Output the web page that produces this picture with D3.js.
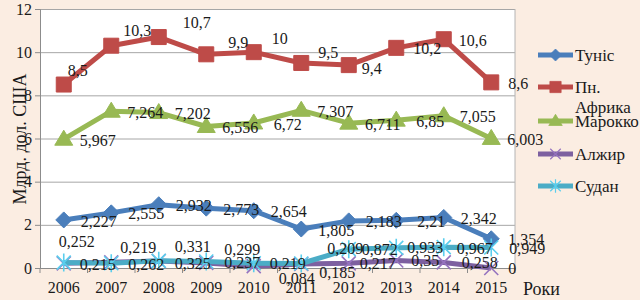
<!DOCTYPE html>
<html lang="uk">
<head>
<meta charset="utf-8">
<title>Експорт, млрд. дол. США</title>
<style>
html,body {margin:0; padding:0; background:#fbede2;}
svg {display:block;}
</style>
</head>
<body>
<script src="https://cdn.jsdelivr.net/npm/d3@7"></script>
<script>
// data
var years = ['2006','2007','2008','2009','2010','2011','2012','2013','2014','2015']
var tunis = [2.227, 2.555, 2.932, 2.773, 2.654, 1.805, 2.183, 2.21, 2.342, 1.354]
var nAfrica = [8.5, 10.3, 10.7, 9.9, 10, 9.5, 9.4, 10.2, 10.6, 8.6]
var morocco = [5.967, 7.264, 7.202, 6.556, 6.72, 7.307, 6.711, 6.85, 7.055, 6.003]
var algeria = [0.215, 0.262, 0.325, 0.237, 0.084, 0.185, 0.217, 0.35, 0.258, 0]
var sudan = [0.252, 0.219, 0.331, 0.299, 0.219, 0.209, 0.872, 0.933, 0.967, 0.949]
var yTicks = [0, 2, 4, 6, 8, 10, 12]

var W = 640, H = 300
var m = {left:40, top:9, right:125, bottom:32}
var pw = W - m.left - m.right, ph = H - m.top - m.bottom
var FONT = "'Liberation Serif'"
var INK = '#1a1a1a'

// label nudges (px) relative to each point, as placed in the original
var off = {
  tunis:   years.map(function(){return [35, 1]}),
  nAfrica: [[14,-14],[26,-15],[38,-15],[32,-12],[26,-14],[27,-11],[23,3],[31,1],[29,1],[27,1]],
  morocco: years.map(function(){return [34, 1]}),
  algeria: [[34,1],[35,2],[34,2],[36,0],[43,12],[36,8],[29,0],[29,0],[36,0],[21,0]],
  sudan:   [[13,-21],[27,-16],[34,-14],[36,-12],[34,0],[44,-15],[31,0],[29,0],[31,1],[36,1]]
}

var series = [
  {key:'tunis',   name:'Туніс',      values:tunis,   color:'#4a7ebb', marker:'diamond'},
  {key:'nAfrica', name:'Пн. Африка', values:nAfrica, color:'#be4b48', marker:'square'},
  {key:'morocco', name:'Марокко',    values:morocco, color:'#98b954', marker:'triangle'},
  {key:'algeria', name:'Алжир',      values:algeria, color:'#7d60a0', marker:'x'},
  {key:'sudan',   name:'Судан',      values:sudan,   color:'#4bacc6', marker:'star'}
]

function fmt(v) { return String(v).replace('.', ',') }

function markerPath(type) {
  if (type == 'diamond') return 'M0,-8L8,0L0,8L-8,0Z'
  if (type == 'square') return 'M-7.5,-7.5H7.5V7.5H-7.5Z'
  if (type == 'triangle') return 'M0,-9L9,6H-9Z'
  if (type == 'x') return 'M-7,-7L7,7M-7,7L7,-7'
  return 'M-7,-7L7,7M-7,7L7,-7M0,-9V9'
}
function drawMarker(g, s) {
  var p = g.append('path').attr('d', markerPath(s.marker))
  if (s.marker == 'x' || s.marker == 'star') {
    p.attr('fill', 'none').attr('stroke', d3.color(s.color).brighter(0.5)).attr('stroke-width', 1.6)
  } else {
    p.attr('fill', s.color).attr('stroke', s.color).attr('stroke-width', 1)
  }
}
function serif(sel, size) {
  sel.style('font-family', FONT).style('font-size', size + 'px').style('fill', INK)
}

var svg = d3.select('body').append('svg').attr('width', W).attr('height', H)
  .style('font-family', FONT)

var x = d3.scaleBand().domain(years).range([m.left, m.left + pw])
var y = d3.scaleLinear().domain([0, 12]).range([m.top + ph, m.top])
var cx = function(i) { return x(years[i]) + x.bandwidth() / 2 }

// plot area
svg.append('rect').attr('x', m.left).attr('y', m.top).attr('width', pw).attr('height', ph).attr('fill', '#fff')

// grid
svg.append('g')
  .attr('transform', 'translate(' + m.left + ',0)')
  .call(d3.axisLeft(y).tickValues(yTicks).tickSize(-pw).tickFormat(''))
  .call(function(g) { g.select('.domain').remove(); g.selectAll('line').attr('stroke', '#a6a6a6') })

// right border
svg.append('line').attr('x1', m.left + pw).attr('x2', m.left + pw).attr('y1', m.top).attr('y2', m.top + ph).attr('stroke', '#b4b4b4')

// y axis
svg.append('g')
  .attr('transform', 'translate(' + m.left + ',0)')
  .call(d3.axisLeft(y).tickValues(yTicks).tickSize(5).tickPadding(3).tickFormat(d3.format('d')))
  .call(function(g) {
    g.selectAll('line, .domain').attr('stroke', '#8c8c8c')
    g.selectAll('text').call(serif, 16)
  })

// x axis
svg.append('g')
  .attr('transform', 'translate(0,' + (m.top + ph) + ')')
  .call(d3.axisBottom(x).tickSize(0).tickPadding(14))
  .call(function(g) {
    g.select('.domain').attr('stroke', '#8c8c8c')
    g.selectAll('text').call(serif, 16)
  })
svg.append('g').selectAll('line')
  .data(years.concat(['end']))
  .join('line')
  .attr('x1', function(d, i) { return m.left + i * x.step() })
  .attr('x2', function(d, i) { return m.left + i * x.step() })
  .attr('y1', m.top + ph).attr('y2', m.top + ph + 5)
  .attr('stroke', '#8c8c8c')

// lines + markers
var line = d3.line().x(function(d, i) { return cx(i) }).y(function(d) { return y(d) })
series.forEach(function(s) {
  svg.append('path').datum(s.values)
    .attr('d', line).attr('fill', 'none')
    .attr('stroke', s.color).attr('stroke-width', 5).attr('stroke-linejoin', 'round')
  s.values.forEach(function(v, i) {
    var g = svg.append('g').attr('transform', 'translate(' + cx(i) + ',' + y(v) + ')')
    drawMarker(g, s)
  })
})

// data labels
series.forEach(function(s) {
  svg.append('g').selectAll('text')
    .data(s.values)
    .join('text')
    .attr('x', function(d, i) { return cx(i) + off[s.key][i][0] })
    .attr('y', function(d, i) { return y(d) + off[s.key][i][1] })
    .attr('dy', '0.35em')
    .attr('text-anchor', 'middle')
    .call(serif, 16)
    .text(fmt)
})

// axis titles
svg.append('text')
  .attr('transform', 'translate(20,139) rotate(-90)')
  .attr('text-anchor', 'middle').attr('dy', '0.35em')
  .call(serif, 18)
  .text('Млрд. дол. США')
svg.append('text')
  .attr('x', 523).attr('y', 289).attr('dy', '0.35em')
  .call(serif, 18)
  .text('Роки')

// legend
var legY = [55, 87, 121, 154, 186]
var leg = svg.append('g').selectAll('g')
  .data(series)
  .join('g')
  .attr('transform', function(d, i) { return 'translate(538,' + legY[i] + ')' })
leg.append('line').attr('x1', 0).attr('x2', 35)
  .attr('stroke', function(d) { return d.color }).attr('stroke-width', 5)
leg.each(function(s) {
  var g = d3.select(this).append('g').attr('transform', 'translate(17.5,0) scale(0.75)')
  drawMarker(g, s)
})
leg.append('text')
  .attr('x', 37)
  .call(serif, 17)
  .each(function(s) {
    var parts = s.name.split(' ')
    var t = d3.select(this)
    parts.forEach(function(p, j) {
      t.append('tspan').attr('x', 37).attr('dy', j == 0 ? '0.35em' : '1.2em').text(p)
    })
  })
</script>
</body>
</html>
